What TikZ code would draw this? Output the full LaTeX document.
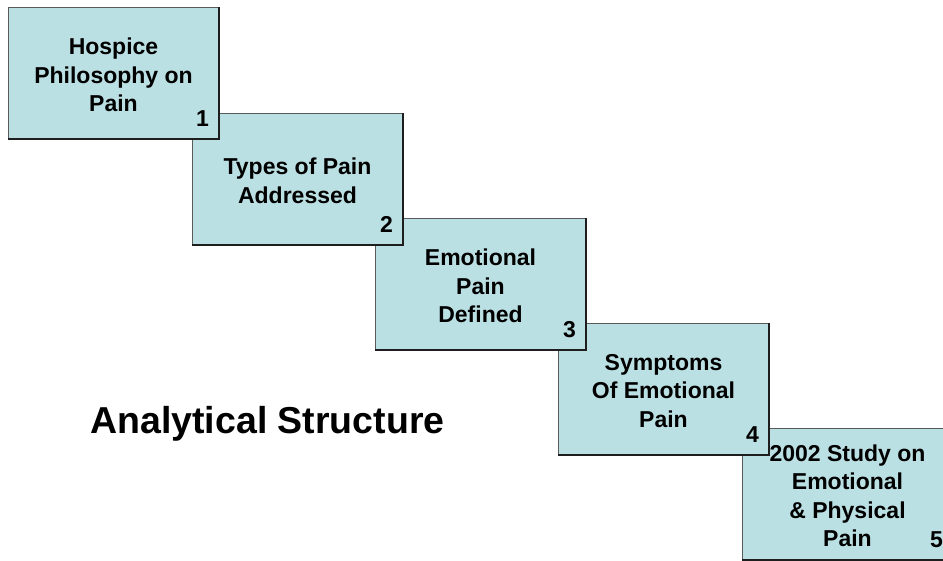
\documentclass[tikz,border=0pt]{standalone}
\usepackage{fontspec}
\setmainfont{Liberation Sans}
\definecolor{boxfill}{HTML}{BBE0E3}
\definecolor{edgegray}{HTML}{5A5A5A}
\definecolor{edgedark}{HTML}{1E1E1E}
\begin{document}
\begin{tikzpicture}[x=1pt,y=-1pt,
  stepbox/.style={rectangle, fill=boxfill, draw=edgegray, line width=1pt,
    minimum width=210pt, minimum height=131pt, anchor=north west, inner sep=0pt},
  steptext/.style={align=center, inner sep=0pt, font=\fontsize{23}{28.5}\selectfont\bfseries},
  shadowedge/.style={draw=edgedark, line width=1.2pt},
  numtext/.style={font=\fontsize{23}{23}\selectfont\bfseries, anchor=south east, inner sep=0pt},
  titletext/.style={font=\fontsize{37.5}{40}\selectfont\bfseries}]
\clip (0,0) rectangle (943,560);
\fill[white] (0,0) rectangle (943,560);

% steps, drawn from the last one up so each overlaps the next
\node[stepbox] (s5) at (742,428) {};
\node[steptext] (t5) at ([yshift=-2pt]s5.center) {2002 Study on\\Emotional\\\& Physical\\Pain};
\draw[shadowedge] (s5.north east) -- (s5.south east) -- (s5.south west);
\node[numtext] (n5) at ([xshift=-10pt,yshift=12pt]s5.south east) {5};

\node[stepbox] (s4) at (558,323) {};
\node[steptext] (t4) at ([yshift=-2pt]s4.center) {Symptoms\\Of Emotional\\Pain};
\draw[shadowedge] (s4.north east) -- (s4.south east) -- (s4.south west);
\node[numtext] (n4) at ([xshift=-10pt,yshift=12pt]s4.south east) {4};

\node[stepbox] (s3) at (375,218) {};
\node[steptext] (t3) at ([yshift=-2pt]s3.center) {Emotional\\Pain\\Defined};
\draw[shadowedge] (s3.north east) -- (s3.south east) -- (s3.south west);
\node[numtext] (n3) at ([xshift=-10pt,yshift=12pt]s3.south east) {3};

\node[stepbox] (s2) at (192,113) {};
\node[steptext] (t2) at ([yshift=-2pt]s2.center) {Types of Pain\\Addressed};
\draw[shadowedge] (s2.north east) -- (s2.south east) -- (s2.south west);
\node[numtext] (n2) at ([xshift=-10pt,yshift=12pt]s2.south east) {2};

\node[stepbox] (s1) at (8,7) {};
\node[steptext] (t1) at ([yshift=-2pt]s1.center) {Hospice\\Philosophy on\\Pain};
\draw[shadowedge] (s1.north east) -- (s1.south east) -- (s1.south west);
\node[numtext] (n1) at ([xshift=-10pt,yshift=12pt]s1.south east) {1};

\node[titletext] (title) at (267.5,424) {Analytical Structure};
\end{tikzpicture}
\end{document}
